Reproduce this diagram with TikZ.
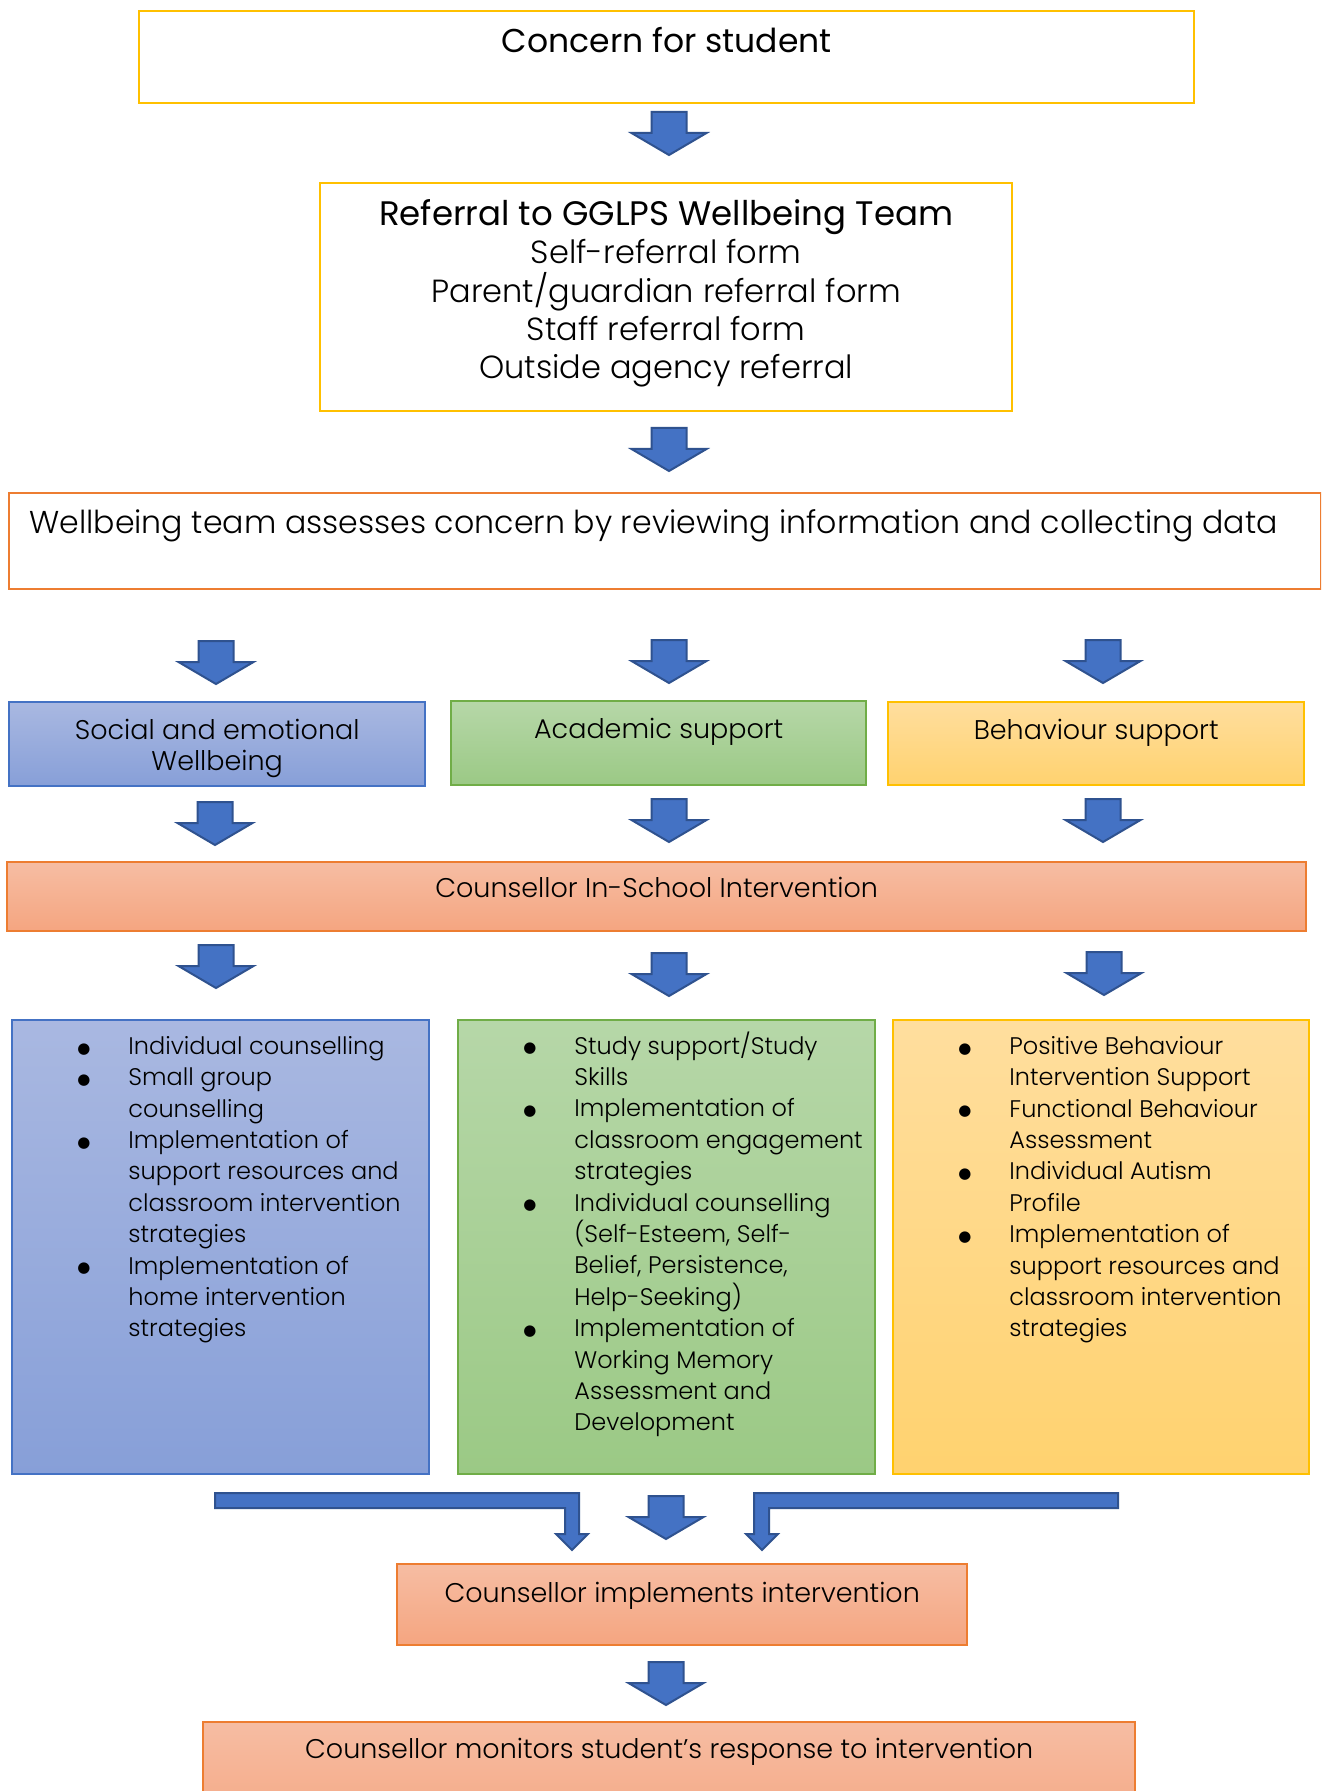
\documentclass[tikz,border=0pt]{standalone}
\usepackage{fontspec}
\setmainfont{Poppins Light}
\newfontfamily\regfont{Poppins}
\newfontfamily\symfont{DejaVu Sans}
\usepackage{tikz}

\definecolor{goldline}{HTML}{FFC000}
\definecolor{orangeline}{HTML}{ED7D31}
\definecolor{blueline}{HTML}{4472C4}
\definecolor{greenline}{HTML}{70AD47}
\definecolor{arrowfill}{HTML}{4472C4}
\definecolor{arrowline}{HTML}{2F528F}
\definecolor{bluetop}{HTML}{A9B8E1}
\definecolor{bluebot}{HTML}{879FD8}
\definecolor{greentop}{HTML}{B6D7A8}
\definecolor{greenbot}{HTML}{9BC985}
\definecolor{yellowtop}{HTML}{FFDE9E}
\definecolor{yellowbot}{HTML}{FFD26F}
\definecolor{salmontop}{HTML}{F6BDA3}
\definecolor{salmonbot}{HTML}{F5A580}

\tikzset{
	box/.style={draw, line width=1.2pt, anchor=north west, inner sep=0pt},
	head/.style={anchor=north, inner sep=0pt, align=center, font=\fontsize{16}{19.2}\selectfont},
	body/.style={anchor=north, inner sep=0pt, align=center, font=\fontsize{13.5}{15.5}\selectfont},
	lst/.style={anchor=north west, inner sep=0pt, align=left, xshift=58.5pt, yshift=-8.4pt, font=\fontsize{12}{15.7}\selectfont},
	blockarr/.style={fill=arrowfill, draw=arrowline, line width=1pt, line join=miter},
}
\newcommand{\bul}{\llap{\raisebox{0.6pt}{\symfont\fontsize{7.5}{7.5}\selectfont ●}\hspace{19pt}}}
\newcommand{\downblock}[1]{\draw[blockarr] (#1) ++(-17.5,0) -- ++(35,0) -- ++(0,21) -- ++(20,0) -- ++(-37.5,22) -- ++(-37.5,-22) -- ++(20,0) -- cycle;}

\begin{document}
\begin{tikzpicture}[x=0.5pt, y=-0.5pt]
	\useasboundingbox (0,0) rectangle (1321,1791);
	\clip (0,0) rectangle (1321,1791);
	\fill[white] (0,0) rectangle (1321,1791);

	\node[box, draw=goldline, minimum width=527.5pt, minimum height=46pt,
		label={[head, below=8.5pt, font=\fontsize{16.5}{19.2}\selectfont]north:{\regfont Concern for student}}] (concern) at (138,10) {};
	\node[box, draw=goldline, minimum width=346pt, minimum height=114pt,
		label={[head, below=8.5pt]north:{\regfont\fontsize{17}{19.2}\selectfont Referral to GGLPS Wellbeing Team}\\Self-referral form\\Parent/guardian referral form\\Staff referral form\\Outside agency referral}] (referral) at (319,182) {};
	\node[box, draw=orangeline, minimum width=656pt, minimum height=48pt,
		label={[body, anchor=north west, xshift=10.5pt, yshift=-8.5pt, font=\fontsize{15.8}{18}\selectfont]north west:Wellbeing team assesses concern by reviewing information and collecting data}] (assess) at (8,492) {};

	\node[box, draw=blueline, top color=bluetop, bottom color=bluebot, minimum width=208pt, minimum height=42pt,
		label={[body, below=9pt]north:Social and emotional\\Wellbeing}] (social) at (8,701) {};
	\node[box, draw=greenline, top color=greentop, bottom color=greenbot, minimum width=207.5pt, minimum height=42pt,
		label={[body, below=9pt]north:Academic support}] (academic) at (450,700) {};
	\node[box, draw=goldline, top color=yellowtop, bottom color=yellowbot, minimum width=208pt, minimum height=41.5pt,
		label={[body, below=9pt]north:Behaviour support}] (behaviour) at (887,701) {};

	\node[box, draw=orangeline, top color=salmontop, bottom color=salmonbot, minimum width=649.5pt, minimum height=34.5pt,
		label={[body, below=8pt]north:Counsellor In-School Intervention}] (inschool) at (6,861) {};

	\node[box, draw=blueline, top color=bluetop, bottom color=bluebot, minimum width=208.5pt, minimum height=227pt,
		label={[lst]north west:\bul Individual counselling\\\bul Small group\\counselling\\\bul Implementation of\\support resources and\\classroom intervention\\strategies\\\bul Implementation of\\home intervention\\strategies}] (sociallist) at (11,1019) {};
	\node[box, draw=greenline, top color=greentop, bottom color=greenbot, minimum width=208.5pt, minimum height=227pt,
		label={[lst, yshift=2.3pt]north west:\bul Study support/Study\\Skills\\\bul Implementation of\\classroom engagement\\strategies\\\bul Individual counselling\\(Self-Esteem, Self-\\Belief, Persistence,\\Help-Seeking)\\\bul Implementation of\\Working Memory\\Assessment and\\Development}] (academiclist) at (457,1019) {};
	\node[box, draw=goldline, top color=yellowtop, bottom color=yellowbot, minimum width=208pt, minimum height=227pt,
		label={[lst]north west:\bul Positive Behaviour\\Intervention Support\\\bul Functional Behaviour\\Assessment\\\bul Individual Autism\\Profile\\\bul Implementation of\\support resources and\\classroom intervention\\strategies}] (behaviourlist) at (892,1019) {};

	\node[box, draw=orangeline, top color=salmontop, bottom color=salmonbot, minimum width=285pt, minimum height=40.5pt,
		label={[body, below=9.5pt]north:Counsellor implements intervention}] (implements) at (396,1563) {};
	\node[box, draw=orangeline, top color=salmontop, bottom color=salmonbot, minimum width=466pt, minimum height=60pt,
		label={[body, below=8.5pt]north:Counsellor monitors student’s response to intervention}] (monitors) at (202,1721) {};

	% block arrows
	\coordinate (a1) at (669,112);
	\coordinate (a2) at (669,428);
	\coordinate (s1) at (216,641);
	\coordinate (s2) at (669,640);
	\coordinate (s3) at (1103,640);
	\coordinate (c1) at (215,802);
	\coordinate (c2) at (669,799);
	\coordinate (c3) at (1103,799);
	\coordinate (l1) at (216,945);
	\coordinate (l2) at (669,953);
	\coordinate (l3) at (1104,952);
	\coordinate (m1) at (666,1496);
	\coordinate (m2) at (666,1662);
	\coordinate (bl) at (215,1493);
	\coordinate (br) at (1118,1493);

	\downblock{a1}
	\downblock{a2}
	\downblock{s1}
	\downblock{s2}
	\downblock{s3}
	\downblock{c1}
	\downblock{c2}
	\downblock{c3}
	\downblock{l1}
	\downblock{l2}
	\downblock{l3}
	\downblock{m1}
	\downblock{m2}

	\draw[blockarr] (bl) -- ++(364,0) -- ++(0,41) -- ++(9,0) -- ++(-16,16) -- ++(-16,-16) -- ++(9,0) -- ++(0,-26) -- ++(-350,0) -- cycle;
	\draw[blockarr] (br) -- ++(-364,0) -- ++(0,41) -- ++(-8,0) -- ++(16,16) -- ++(16,-16) -- ++(-9,0) -- ++(0,-26) -- ++(349,0) -- cycle;

\end{tikzpicture}
\end{document}
